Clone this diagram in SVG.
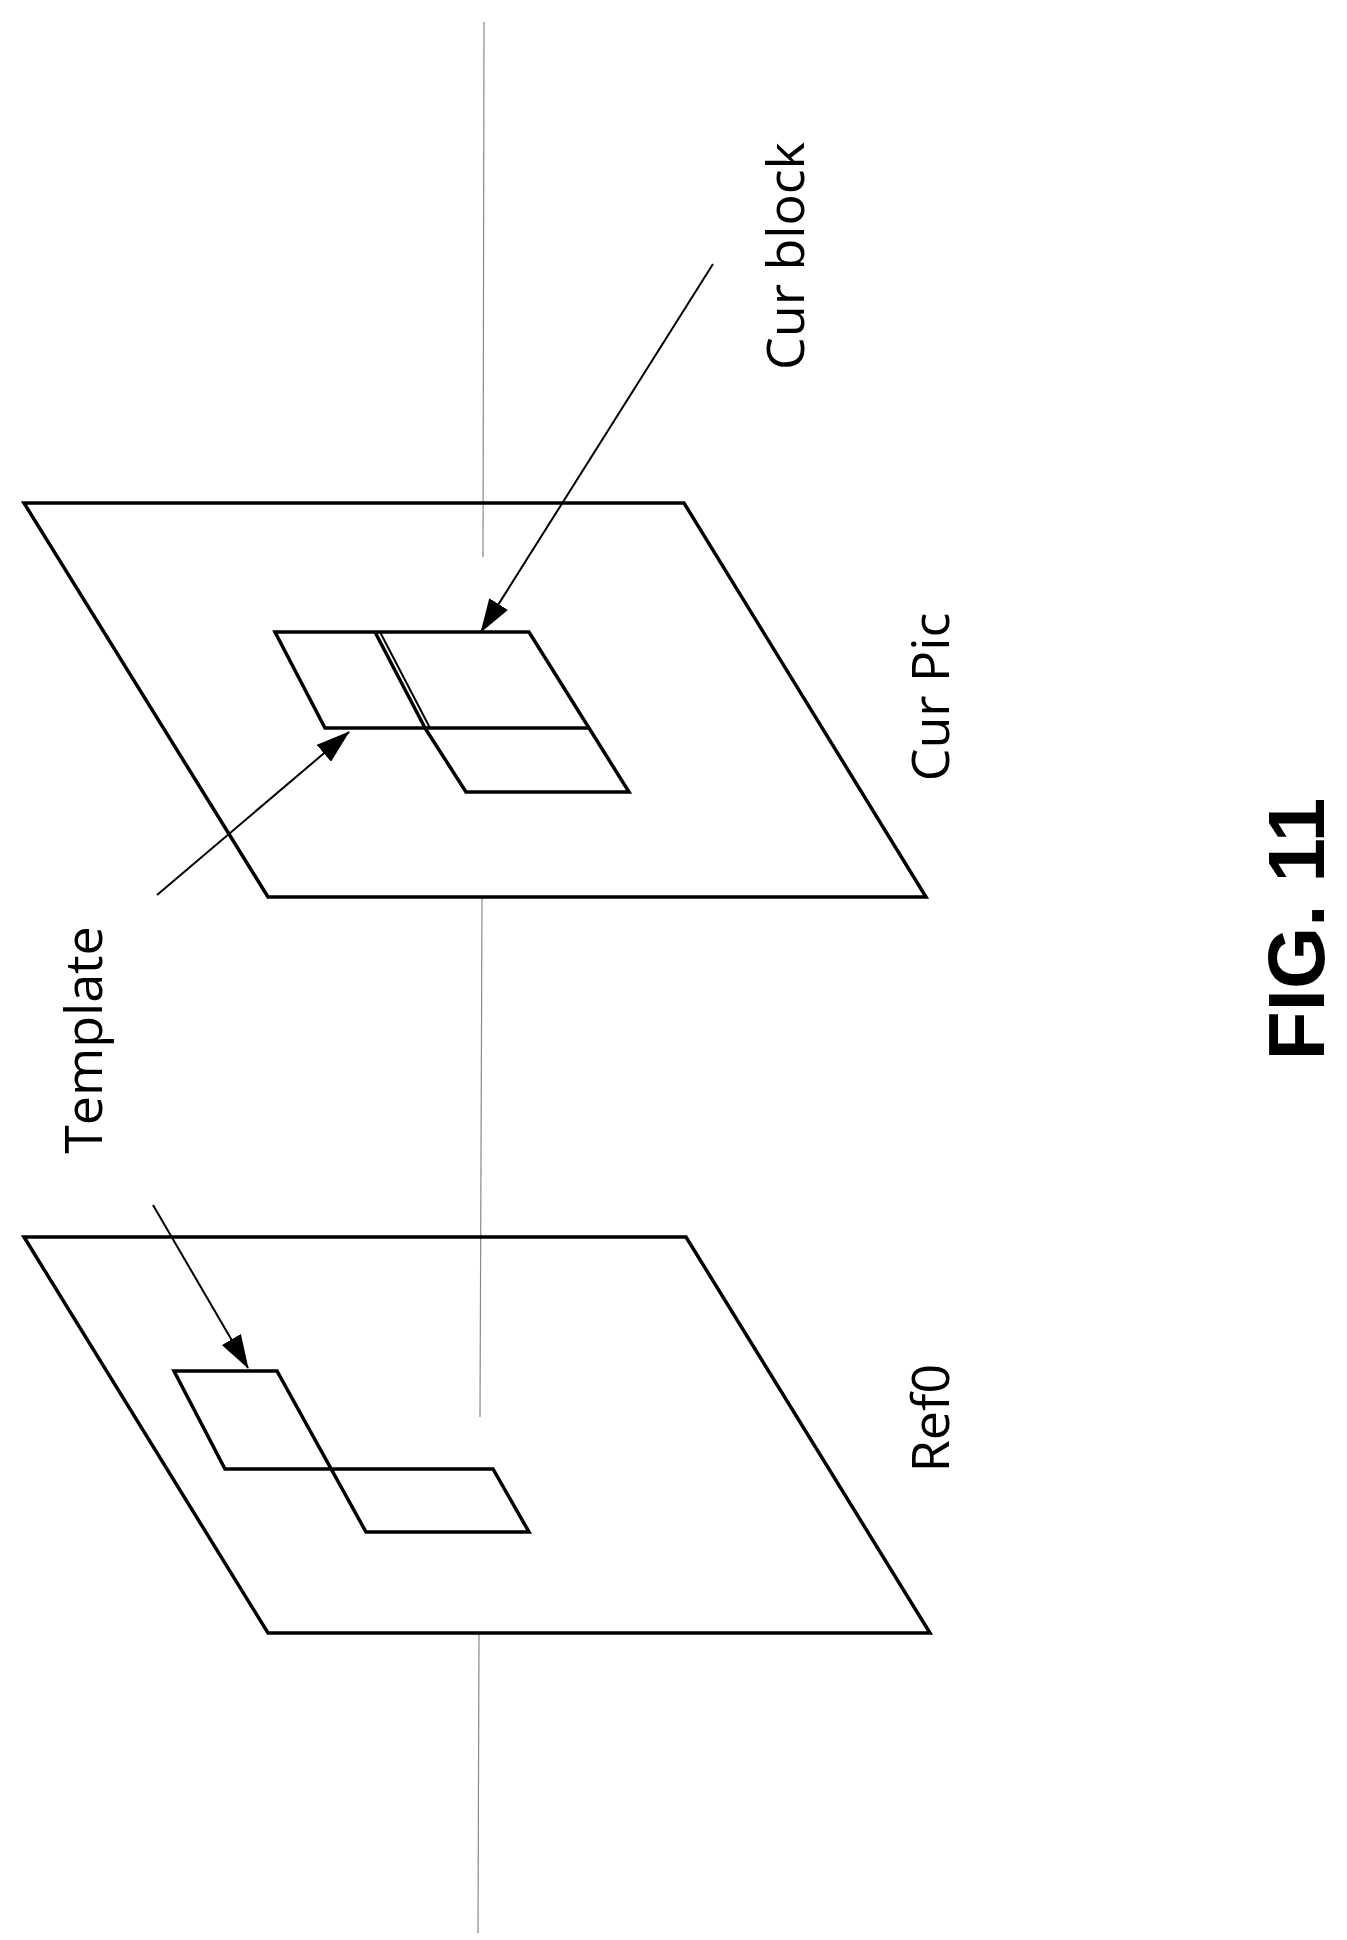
<svg xmlns="http://www.w3.org/2000/svg" width="1347" height="1940" viewBox="0 0 1347 1940">
<style>
.pl{fill:none;stroke:#000;stroke-width:3.5;stroke-linejoin:miter}
.ax{stroke:#888;stroke-width:1.2;fill:none}
.ar{stroke:#000;stroke-width:2;fill:none}
.t{font-family:"Open Sans","Noto Sans",sans-serif;font-size:52px;text-anchor:middle;dominant-baseline:central}
.f{font-family:"Liberation Sans",Arial,sans-serif;font-size:80px;font-weight:bold;text-anchor:middle;dominant-baseline:central}
</style>
<defs>
<marker id="ah2" markerWidth="34" markerHeight="22" refX="33" refY="11" orient="auto" markerUnits="userSpaceOnUse" viewBox="0 0 34 22"><path d="M0,0 L34,11 L0,22 Z" fill="#000"/></marker></defs>
<rect width="1347" height="1940" fill="#fff"/>
<g id="axis">
<line class="ax" x1="484" y1="22" x2="483" y2="557"/>
<line class="ax" x1="482" y1="897" x2="480" y2="1417"/>
<line class="ax" x1="479" y1="1633" x2="478" y2="1933"/>
</g>
<g id="curpic">
<polygon class="pl" points="24,503 684,503 926,897 268,897"/>
<polygon class="pl" points="275,632 529,632 629,792 466,792 425,728 325,728"/>
<line class="pl" x1="375" y1="632" x2="425" y2="728"/>
<line class="pl" x1="380" y1="632" x2="430" y2="728" style="stroke-width:2"/>
<line class="pl" x1="425" y1="728" x2="588" y2="728"/>
</g>
<g id="ref0">
<polygon class="pl" points="24,1237 686,1237 930,1633 268,1633"/>
<polygon class="pl" points="174,1371 277,1371 366,1532 529,1532 493,1469 225,1469"/>
</g>
<g id="connectors">
<line class="ar" x1="713" y1="264" x2="481" y2="632" marker-end="url(#ah2)"/>
<line class="ar" x1="157" y1="895" x2="349" y2="732" marker-end="url(#ah2)"/>
<line class="ar" x1="153" y1="1205" x2="248" y2="1368" marker-end="url(#ah2)"/>
</g>
<g id="labels">
<text class="t" transform="translate(783,256) rotate(-90)">Cur block</text>
<text class="t" transform="translate(928,697) rotate(-90)">Cur Pic</text>
<text class="t" transform="translate(81,1040) rotate(-90)">Template</text>
<text class="t" transform="translate(928,1418) rotate(-90)">Ref0</text>
<text class="f" transform="translate(1296,929) rotate(-90)">FIG. 11</text>
</g>
</svg>
